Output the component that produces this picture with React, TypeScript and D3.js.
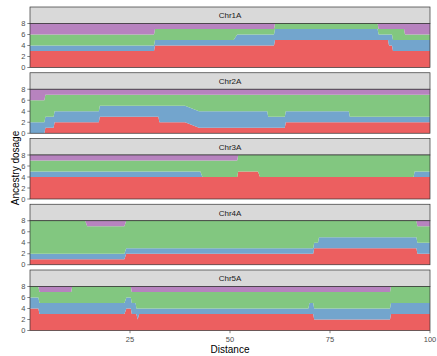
import React from "react";
import * as d3 from "d3";

// ancestry layers, bottom to top
const ancestries = ["red", "blue", "green", "purple"];
const colours = ["#EC5F60", "#73A5CD", "#82C780", "#B783BF"];

const chromosomes = ["Chr1A", "Chr2A", "Chr3A", "Chr4A", "Chr5A"];

// [distance, red, blue, green, purple]
const chr1A = [
  [0, 3, 1, 2, 2], [31, 3, 1, 2, 2], [31.25, 4, 1, 2, 1], [50.9, 4, 1, 2, 1],
  [51.8, 4, 2, 1, 1], [61, 4, 2, 1, 1], [61.25, 5, 2, 1, 0], [86.9, 5, 2, 1, 0],
  [87.15, 5, 1, 1, 1], [89.5, 5, 1, 1, 1], [89.75, 4, 2, 1, 1], [90.5, 4, 2, 1, 1],
  [90.75, 3, 2, 2, 1], [93.5, 3, 2, 2, 1], [93.75, 3, 2, 1, 2], [100, 3, 2, 1, 2],
];
const chr2A = [
  [0, 0, 2, 4, 2], [3.6, 0, 2, 4, 2], [3.85, 1, 2, 4, 1], [5.9, 1, 2, 4, 1],
  [6.15, 2, 2, 3, 1], [17.2, 2, 2, 3, 1], [17.45, 3, 2, 2, 1], [32.1, 3, 2, 2, 1],
  [32.35, 2, 3, 2, 1], [38.75, 2, 3, 2, 1], [42.25, 1, 3, 3, 1], [59.3, 1, 3, 3, 1],
  [59.55, 1, 2, 4, 1], [63.7, 1, 2, 4, 1], [63.95, 2, 2, 3, 1], [79.7, 2, 2, 3, 1],
  [79.95, 2, 1, 4, 1], [100, 2, 1, 4, 1],
];
const chr3A = [
  [0, 4, 1, 2, 1], [42.6, 4, 1, 2, 1], [43.1, 4, 0, 3, 1], [51.8, 4, 0, 3, 1],
  [52.05, 5, 0, 3, 0], [57.0, 5, 0, 3, 0], [57.5, 4, 0, 4, 0], [95.9, 4, 0, 4, 0],
  [96.15, 4, 1, 3, 0], [100, 4, 1, 3, 0],
];
const chr4A = [
  [0, 1, 1, 6, 0], [13.8, 1, 1, 6, 0], [14.3, 1, 1, 5, 1], [23.6, 1, 1, 5, 1],
  [24.05, 2, 1, 5, 0], [70.8, 2, 1, 5, 0], [71.05, 3, 1, 4, 0], [72.0, 3, 1, 4, 0],
  [72.25, 3, 2, 3, 0], [96.6, 3, 2, 3, 0], [96.85, 2, 2, 3, 1], [100, 2, 2, 3, 1],
];
const chr5A = [
  [0, 4, 2, 2, 0], [2.1, 4, 2, 2, 0], [2.35, 3, 2, 2, 1], [10.3, 3, 2, 2, 1],
  [10.55, 3, 2, 3, 0], [23.6, 3, 2, 3, 0], [24.1, 4, 2, 2, 0], [25.2, 4, 2, 2, 0],
  [25.45, 3, 2, 2, 1], [26.4, 3, 2, 2, 1], [26.6, 3, 1, 3, 1], [26.9, 2, 2, 3, 1],
  [27.3, 3, 1, 3, 1], [69.6, 3, 1, 3, 1], [69.85, 3, 2, 2, 1], [70.8, 3, 2, 2, 1],
  [71.05, 2, 2, 3, 1], [90.0, 2, 2, 3, 1], [90.25, 3, 2, 3, 0], [100, 3, 2, 3, 0],
];
const chrData = [chr1A, chr2A, chr3A, chr4A, chr5A];

const yTicks = [0, 2, 4, 6, 8];
const xTicks = [25, 50, 75, 100];

const W = 437;
const H = 356;
const left = 30;
const right = 430;
const top0 = 7;
const pitch = 65.75;
const stripH = 16.5;
const panelH = 44;
const font = "Liberation Sans, Arial, sans-serif";

const x = d3.scaleLinear().domain([0, 100]).range([left, right]);

const stack = d3
  .stack<number[]>()
  .keys(ancestries)
  .value((d, key) => d[ancestries.indexOf(key) + 1]);

const Panel = ({ name, rows, i }: { name: string; rows: number[][]; i: number }) => {
  const top = top0 + i * pitch;
  const pTop = top + stripH;
  const y = d3.scaleLinear().domain([0, 8]).range([pTop + panelH, pTop]);
  const area = d3
    .area<any>()
    .x((d) => x(d.data[0]))
    .y0((d) => y(d[0]))
    .y1((d) => y(d[1]));
  const series = stack(rows);
  return (
    <g>
      <rect x={left} y={top} width={right - left} height={stripH} fill="#D9D9D9" stroke="#333" strokeWidth={0.7} />
      <text x={(left + right) / 2} y={top + stripH / 2 + 3} textAnchor="middle" fontSize={8} fill="#1A1A1A" fontFamily={font}>
        {name}
      </text>
      {series.map((s, k) => (
        <path key={k} d={area(s) || ""} fill={colours[k]} />
      ))}
      <rect x={left} y={pTop} width={right - left} height={panelH} fill="none" stroke="#333" strokeWidth={0.7} />
      {yTicks.map((t) => (
        <g key={t}>
          <line x1={left - 2.7} x2={left} y1={y(t)} y2={y(t)} stroke="#333" strokeWidth={0.6} />
          <text x={left - 4.5} y={y(t) + 2.6} textAnchor="end" fontSize={7.5} fill="#4D4D4D" fontFamily={font}>
            {t}
          </text>
        </g>
      ))}
    </g>
  );
};

export default function App() {
  const bottom = top0 + (chromosomes.length - 1) * pitch + stripH + panelH;
  return (
    <svg width={W} height={H} style={{ position: "absolute", left: 0, top: 0 }}>
      <rect width={W} height={H} fill="white" />
      {chromosomes.map((c, i) => (
        <Panel key={c} name={c} rows={chrData[i]} i={i} />
      ))}
      {xTicks.map((t) => (
        <g key={t}>
          <line x1={x(t)} x2={x(t)} y1={bottom} y2={bottom + 2.7} stroke="#333" strokeWidth={0.6} />
          <text x={x(t)} y={bottom + 11.5} textAnchor="middle" fontSize={7.5} fill="#4D4D4D" fontFamily={font}>
            {t}
          </text>
        </g>
      ))}
      <text x={(left + right) / 2} y={353} textAnchor="middle" fontSize={10} fill="#000" fontFamily={font}>
        Distance
      </text>
      <text
        transform={`translate(18.5,168) rotate(-90)`}
        textAnchor="middle"
        fontSize={10}
        fill="#000"
        fontFamily={font}
      >
        Ancestry dosage
      </text>
    </svg>
  );
}
